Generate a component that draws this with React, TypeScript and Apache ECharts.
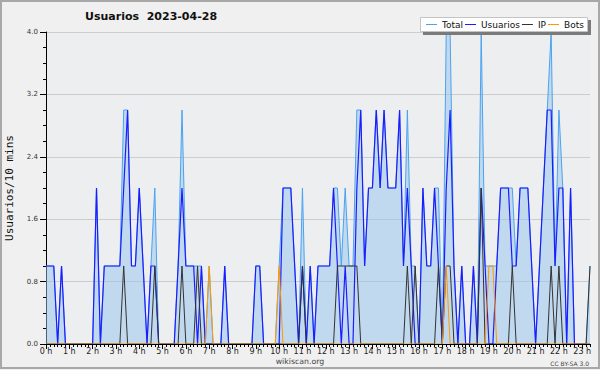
import React, { useEffect, useRef } from "react";
import * as echarts from "echarts";

const hourLabels = [
  "0 h", "1 h", "2 h", "3 h", "4 h", "5 h", "6 h", "7 h", "8 h", "9 h", "10 h", "11 h",
  "12 h", "13 h", "14 h", "15 h", "16 h", "17 h", "18 h", "19 h", "20 h", "21 h", "22 h", "23 h",
];

// 10-minute samples, 00:00 .. 23:20 (one row per hour)
const usuarios = [
  1, 1, 1, 0, 1, 0,
  0, 0, 0, 0, 0, 0,
  0, 2, 0, 1, 1, 1,
  1, 1, 2, 3, 1, 1,
  2, 1, 0, 1, 1, 0,
  0, 0, 0, 0, 1, 2,
  1, 1, 1, 0, 1, 0,
  0, 0, 0, 0, 1, 0,
  0, 0, 0, 0, 0, 0,
  1, 1, 0, 0, 0, 0,
  0, 2, 2, 2, 1, 0,
  1, 0, 1, 0, 1, 1,
  1, 1, 2, 1, 0, 1,
  0, 0, 2, 3, 1, 2,
  2, 3, 2, 3, 2, 2,
  2, 3, 1, 2, 1, 0,
  0, 2, 1, 1, 2, 1,
  0, 2, 3, 1, 0, 1,
  0, 0, 1, 0, 2, 1,
  0, 0, 1, 2, 2, 2,
  1, 1, 2, 2, 2, 1,
  0, 1, 2, 3, 3, 1,
  2, 2, 0, 2, 0, 0,
  0, 0, 0,
];

const ip = [
  0, 0, 0, 0, 0, 0,
  0, 0, 0, 0, 0, 0,
  0, 0, 0, 0, 0, 0,
  0, 0, 1, 0, 0, 0,
  0, 0, 0, 0, 1, 0,
  0, 0, 0, 0, 0, 1,
  0, 0, 0, 1, 0, 0,
  0, 0, 0, 0, 0, 0,
  0, 0, 0, 0, 0, 0,
  0, 0, 0, 0, 0, 0,
  0, 0, 0, 0, 0, 0,
  1, 0, 0, 0, 0, 0,
  0, 0, 0, 1, 1, 1,
  1, 1, 1, 0, 0, 0,
  0, 0, 0, 0, 0, 0,
  0, 0, 0, 1, 0, 1,
  0, 0, 0, 0, 0, 1,
  0, 1, 1, 0, 0, 0,
  0, 0, 0, 0, 2, 0,
  0, 0, 0, 0, 0, 0,
  1, 0, 0, 0, 0, 0,
  0, 0, 0, 0, 1, 0,
  1, 0, 0, 0, 0, 0,
  0, 0, 1,
];

const bots = [
  0, 0, 0, 0, 0, 0,
  0, 0, 0, 0, 0, 0,
  0, 0, 0, 0, 0, 0,
  0, 0, 0, 0, 0, 0,
  0, 0, 0, 0, 0, 0,
  0, 0, 0, 0, 0, 0,
  0, 0, 0, 0, 0, 0,
  1, 0, 0, 0, 0, 0,
  0, 0, 0, 0, 0, 0,
  0, 0, 0, 0, 0, 0,
  1, 0, 0, 0, 0, 0,
  0, 0, 0, 0, 0, 0,
  0, 0, 0, 0, 0, 0,
  0, 0, 0, 0, 0, 0,
  0, 0, 0, 0, 0, 0,
  0, 0, 0, 0, 0, 0,
  0, 0, 0, 0, 0, 0,
  0, 1, 0, 0, 0, 0,
  0, 0, 0, 0, 0, 0,
  1, 1, 0, 0, 0, 0,
  0, 0, 0, 0, 0, 0,
  0, 0, 0, 0, 0, 0,
  0, 0, 0, 0, 0, 0,
  0, 0, 0,
];

const total = [
  1, 1, 1, 0, 1, 0,
  0, 0, 0, 0, 0, 0,
  0, 2, 0, 1, 1, 1,
  1, 1, 3, 3, 1, 1,
  2, 1, 0, 1, 2, 0,
  0, 0, 0, 0, 1, 3,
  1, 1, 1, 1, 1, 0,
  1, 0, 0, 0, 1, 0,
  0, 0, 0, 0, 0, 0,
  1, 1, 0, 0, 0, 0,
  1, 2, 2, 2, 1, 0,
  2, 0, 1, 0, 1, 1,
  1, 1, 2, 2, 1, 2,
  1, 1, 3, 3, 1, 2,
  2, 3, 2, 3, 2, 2,
  2, 3, 1, 3, 1, 1,
  0, 2, 1, 1, 2, 2,
  0, 4, 4, 1, 0, 1,
  0, 0, 1, 0, 4, 1,
  1, 1, 1, 2, 2, 2,
  2, 1, 2, 2, 2, 1,
  0, 1, 2, 3, 4, 1,
  3, 2, 0, 2, 0, 0,
  0, 0, 1,
];

const times = total.map(
  (_, i) => `${Math.floor(i / 6)}:${String((i % 6) * 10).padStart(2, "0")}`
);

const FONT = "DejaVu Sans";

export default function App() {
  const ref = useRef<HTMLDivElement>(null);

  useEffect(() => {
    if (!ref.current) return;
    const chart = echarts.init(ref.current, null, { renderer: "svg" });
    const lineSeries = (name: string, data: number[], color: string, width: number, z: number, area?: string) => ({
      name,
      type: "line",
      data,
      symbol: "none",
      showSymbol: false,
      z,
      lineStyle: { color, width },
      itemStyle: { color },
      ...(area ? { areaStyle: { color: area, opacity: 1 } } : {}),
      emphasis: { disabled: true },
    });

    chart.setOption({
      animation: false,
      backgroundColor: "#f0f0f0",
      title: {
        text: "Usuarios  2023-04-28",
        left: 85,
        top: 11,
        padding: 0,
        textStyle: { fontFamily: FONT, fontSize: 11, fontWeight: "bold", color: "#111" },
      },
      legend: {
        left: 426,
        top: 20,
        padding: 0,
        icon: "rect",
        itemWidth: 11,
        itemHeight: 1,
        itemGap: 2,
        selectedMode: false,
        z: 10,
        data: ["Total", "Usuarios", "IP", "Bots"],
        textStyle: { fontFamily: FONT, fontSize: 9, color: "#111" },
      },
      grid: {
        left: 46,
        right: 10,
        top: 32,
        bottom: 26,
        show: true,
        containLabel: false,
        outerBoundsMode: "none",
        backgroundColor: "#eceef0",
        borderWidth: 0,
      },
      xAxis: [
        {
          type: "category",
          data: times,
          boundaryGap: false,
          z: 10,
          axisLine: { lineStyle: { color: "#000", width: 1 } },
          axisTick: { interval: 0, length: 3, lineStyle: { color: "#000" } },
          axisLabel: {
            interval: 5,
            margin: 3,
            fontFamily: FONT,
            fontSize: 8,
            color: "#222",
            formatter: (_v: string, i: number) => (i % 6 === 0 ? hourLabels[i / 6] : ""),
          },
          splitLine: { show: false },
        },
        {
          type: "category",
          data: times,
          boundaryGap: false,
          position: "bottom",
          z: 10,
          axisLine: { show: false },
          axisTick: { interval: 5, length: 5, lineStyle: { color: "#000" } },
          axisLabel: { show: false },
          splitLine: { show: false },
        },
      ],
      yAxis: {
        type: "value",
        min: 0,
        max: 4,
        interval: 0.8,
        axisLine: { show: true, lineStyle: { color: "#000", width: 1 } },
        axisTick: { show: true, length: 6, lineStyle: { color: "#000" } },
        minorTick: { show: true, splitNumber: 4, length: 3, lineStyle: { color: "#000" } },
        axisLabel: {
          margin: 8,
          fontFamily: FONT,
          fontSize: 7,
          color: "#333",
          formatter: (v: number) => v.toFixed(1),
        },
        splitLine: { lineStyle: { color: "#cdcdcd", width: 1 } },
        name: "Usuarios/10 mins",
        nameLocation: "middle",
        nameRotate: 90,
        nameGap: 31,
        nameTextStyle: { fontFamily: "DejaVu Sans Mono", fontSize: 11, color: "#111" },
      },
      graphic: [
        {
          type: "rect",
          silent: true,
          z: 5,
          shape: { x: 423, y: 20, width: 168, height: 15 },
          style: { fill: "#7a7a7a" },
        },
        {
          type: "rect",
          silent: true,
          z: 6,
          shape: { x: 420.5, y: 17.5, width: 167, height: 14 },
          style: { fill: "#ffffff", stroke: "#c4c4c4", lineWidth: 1 },
        },
        {
          type: "text",
          silent: true,
          x: 300,
          y: 361,
          style: {
            text: "wikiscan.org",
            fontFamily: FONT,
            fontSize: 7.8,
            fill: "#444",
            align: "center",
            verticalAlign: "middle",
          },
        },
        {
          type: "text",
          silent: true,
          x: 589,
          y: 363,
          style: {
            text: "CC BY-SA 3.0",
            fontFamily: FONT,
            fontSize: 6,
            fill: "#444",
            align: "right",
            verticalAlign: "middle",
          },
        },
        {
          type: "rect",
          silent: true,
          z: 100,
          shape: { x: 1, y: 1, width: 598, height: 367 },
          style: { fill: "none", stroke: "#a8a8a8", lineWidth: 2 },
        },
      ],
      series: [
        lineSeries("Total", total, "#4aa3f0", 1, 2, "rgba(150,195,235,0.5)"),
        lineSeries("Usuarios", usuarios, "#1c1cff", 1.2, 3),
        lineSeries("IP", ip, "#333333", 1, 4),
        lineSeries("Bots", bots, "#ff9900", 1, 5),
      ],
    });

    return () => chart.dispose();
  }, []);

  return (
    <div
      ref={ref}
      style={{ position: "fixed", left: 0, top: 0, width: 600, height: 370 }}
    />
  );
}
